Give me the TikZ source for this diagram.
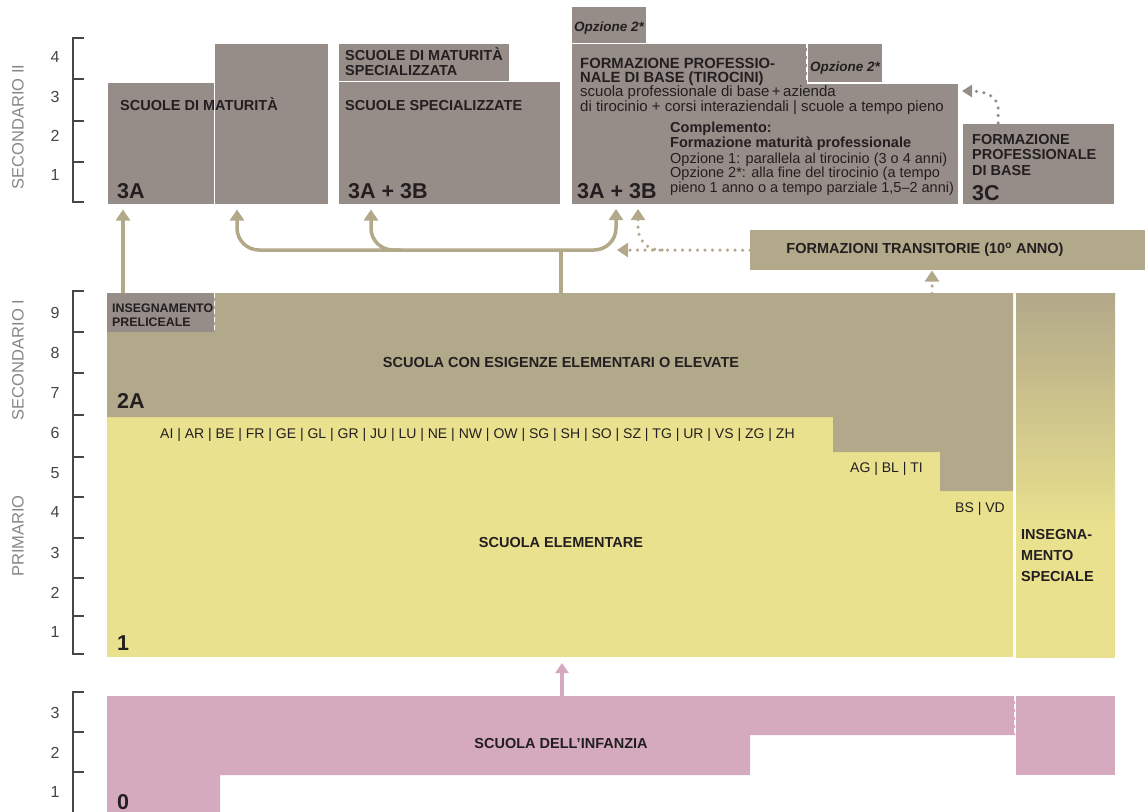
\documentclass[tikz,border=0pt]{standalone}
\usepackage{fontspec}
\setmainfont{Liberation Sans}
\usepackage{tikz}
\usetikzlibrary{positioning, arrows.meta, calc}
\definecolor{edMauve}{RGB}{151,141,136}
\definecolor{edKhaki}{RGB}{178,168,138}
\definecolor{edYellow}{RGB}{233,225,141}
\definecolor{edPink}{RGB}{213,170,190}
\definecolor{edInk}{RGB}{35,31,32}
\definecolor{edGray}{RGB}{135,135,135}
\definecolor{edAxis}{RGB}{70,70,70}

\begin{document}
\begin{tikzpicture}[x=1pt, y=-1pt,
	blk/.style={fill=#1, draw=white, line width=0.5pt, inner sep=0pt, anchor=north west},
	head/.style={font=\bfseries\fontsize{14.5}{14.5}\selectfont, text=edInk, inner sep=0pt, anchor=base west, align=left},
	grade/.style={font=\bfseries\fontsize{21.5}{21.5}\selectfont, text=edInk, inner sep=0pt, anchor=base west},
	body/.style={font=\fontsize{14.5}{14.5}\selectfont, text=edInk, inner sep=0pt, anchor=base west, align=left},
	opz/.style={font=\bfseries\itshape\fontsize{13.5}{13.5}\selectfont, text=edInk, inner sep=0pt, anchor=base west},
	year/.style={font=\fontsize{16}{16}\selectfont, text=edAxis, inner sep=0pt},
	stage/.style={font=\fontsize{16.5}{16.5}\selectfont, text=edGray, rotate=90, inner sep=0pt},
	axis/.style={edAxis, line width=1.4pt},
	whitedash/.style={white, line width=1.3pt, dash pattern=on 5pt off 3pt},
	flow/.style={edKhaki, line width=3.5pt, -{Triangle[width=14pt,length=11pt]}},
	dotflow/.style={edKhaki, line width=3.5pt, line cap=round, dash pattern=on 0pt off 7.5pt, -{Triangle[width=14pt,length=11pt]}},
]
	\fill[white] (0,0) rectangle (1145,811);
	\useasboundingbox (0,0) rectangle (1145,811);

	% axis on the left
	\draw[axis] (84,38) -| (73,202) -- (84,202);
	\foreach \t in {79,121,162} \draw[axis] (73,\t) -- (84,\t);
	\foreach \n/\t in {4/57,3/97,2/136,1/175} \node[year] (ysec\n) at (55,\t) {\n};
	\draw[axis] (84,291) -| (73,654) -- (84,654);
	\foreach \t in {332,373,415,457,497,538,578,616} \draw[axis] (73,\t) -- (84,\t);
	\foreach \n/\t in {9/313,8/353,7/393,6/433,5/473,4/512,3/553,2/593,1/632} \node[year] (ymid\n) at (55,\t) {\n};
	\draw[axis] (84,692) -| (73,812);
	\foreach \t in {732,772} \draw[axis] (73,\t) -- (84,\t);
	\foreach \n/\t in {3/713,2/753,1/792} \node[year] (yinf\n) at (55,\t) {\n};
	\node[stage] (lsec2) at (18,127) {SECONDARIO II};
	\node[stage] (lsec1) at (18,360) {SECONDARIO I};
	\node[stage] (lprim) at (18,536) {PRIMARIO};

	% secondario II
	\node[blk=edMauve, minimum width=107pt, minimum height=122pt] (mat3a) at (107,82) {};
	\node[blk=edMauve, minimum width=114pt, minimum height=161pt] (mat4) at (214,43) {};
	\draw[whitedash] (mat3a.north east) -- (mat3a.south east);
	\node[blk=edMauve, minimum width=222pt, minimum height=123pt] (spec) at (338,81) {};
	\node[blk=edMauve, minimum width=171pt, minimum height=38pt] (matspec) at (338,43) {};
	\draw[whitedash] (matspec.south west) -- (matspec.south east);
	\node[blk=edMauve, minimum width=75pt, minimum height=37pt] (opztop) at (571,6) {};
	\fill[edMauve, draw=white, line width=0.5pt] (571,43) -- (807,43) -- (807,83) -- (958,83) -- (958,204) -- (571,204) -- cycle;
	\coordinate (fpsw) at (571,204);
	\coordinate (fpne) at (958,83);
	\draw[whitedash] (opztop.south west) -- (opztop.south east);
	\node[blk=edMauve, minimum width=75pt, minimum height=39pt] (opzright) at (807,43) {};
	\draw[whitedash] (opzright.north west) -- (opzright.south west) -- (opzright.south east);
	\node[blk=edMauve, minimum width=152pt, minimum height=81pt] (fp3c) at (962,123) {};

	\node[head] (tmat) at (120,110) {SCUOLE DI MATURITÀ};
	\node[grade] (g3a) at (117,198) {3A};
	\node[head] (tmatspec) at (345,75) {SCUOLE DI MATURITÀ\\SPECIALIZZATA};
	\node[head] (tspec) at (345,110) {SCUOLE SPECIALIZZATE};
	\node[grade] (g3ab) at (348,198) {3A + 3B};
	\node[opz] (topz1) at (574,31) {Opzione 2*};
	\node[opz] (topz2) at (810,71) {Opzione 2*};
	\node[head, font=\bfseries\fontsize{14.8}{13.5}\selectfont] (tfp) at (580,82) {FORMAZIONE PROFESSIO-\\NALE DI BASE (TIROCINI)};
	\node[body, font=\fontsize{15}{13.5}\selectfont] (tfpsub) at (580,111) {scuola professionale di base\,+\,azienda\\di tirocinio + corsi interaziendali | scuole a tempo pieno};
	\node[head, font=\bfseries\fontsize{14.5}{13.5}\selectfont] (tbm) at (670,147) {Complemento:\\Formazione maturità professionale};
	\node[body] (tbmopt) at (670,192) {Opzione 1: parallela al tirocinio (3 o 4 anni)\\Opzione 2*: alla fine del tirocinio (a tempo\\pieno 1 anno o a tempo parziale 1,5–2 anni)};
	\node[grade] (g3ab2) at (577,198) {3A + 3B};
	\node[head, font=\bfseries\fontsize{14.5}{15.5}\selectfont] (t3c) at (972,175) {FORMAZIONE\\PROFESSIONALE\\DI BASE};
	\node[grade] (g3c) at (972,200) {3C};

	% secondario I e primario
	\fill[edYellow] (107,417) rectangle (1013,657);
	\fill[edKhaki] (107,293) -- (1013,293) -- (1013,491) -- (940,491) -- (940,452) -- (833,452) -- (833,417) -- (107,417) -- cycle;
	\coordinate (mediatop) at (561,293);
	\node[blk=edMauve, draw=none, minimum width=107pt, minimum height=39pt] (prelic) at (107,293) {};
	\draw[whitedash] (prelic.north east) -- (prelic.south east);
	\shade[top color=edKhaki, bottom color=edYellow] (1016,293) rectangle (1115,530);
	\fill[edYellow] (1016,530) rectangle (1115,658);
	\draw[whitedash] (1015,293) -- (1015,658);
	\node[blk=edKhaki, draw=none, minimum width=396pt, minimum height=40pt] (trans) at (750,230) {};

	\node[head, font=\bfseries\fontsize{12.4}{13.5}\selectfont] (tprelic) at (112,326) {INSEGNAMENTO\\PRELICEALE};
	\node[head, anchor=center] (tmedia) at (561,363) {SCUOLA CON ESIGENZE ELEMENTARI O ELEVATE};
	\node[grade] (g2a) at (117,408) {2A};
	\node[body, font=\fontsize{14}{14}\selectfont] (tcant1) at (160,438) {AI | AR | BE | FR | GE | GL | GR | JU | LU | NE | NW | OW | SG | SH | SO | SZ | TG | UR | VS | ZG | ZH};
	\node[body, font=\fontsize{14}{14}\selectfont] (tcant2) at (850,472) {AG | BL | TI};
	\node[body, font=\fontsize{14}{14}\selectfont] (tcant3) at (955,512) {BS | VD};
	\node[head, anchor=center] (telem) at (561,543) {SCUOLA ELEMENTARE};
	\node[grade] (g1) at (117,650) {1};
	\node[head, font=\bfseries\fontsize{14.5}{21}\selectfont] (tspecial) at (1021,581) {INSEGNA-\\MENTO\\SPECIALE};
	\node[head, anchor=center] (ttrans) at (925,250) {FORMAZIONI TRANSITORIE (10\textsuperscript{o} ANNO)};

	% infanzia
	\fill[edPink] (107,696) -- (1015,696) -- (1015,735) -- (750,735) -- (750,775) -- (220,775) -- (220,812) -- (107,812) -- cycle;
	\fill[edPink] (1016,696) rectangle (1115,775);
	\draw[whitedash] (1015,696) -- (1015,735);
	\coordinate (inftop) at (562,696);
	\node[head, anchor=center] (tinf) at (561,743) {SCUOLA DELL’INFANZIA};
	\node[grade] (g0) at (117,809) {0};

	% passaggi
	\draw[flow] ($(prelic.north west)+(16,0)$) -- ($(mat3a.south west)+(16,5)$);
	\coordinate (fork) at (561,250);
	\draw[edKhaki, line width=3.5pt] (mediatop) -- (fork);
	\draw[flow, rounded corners=22pt] (fork) -| ($(mat4.south west)+(23,5)$);
	\draw[flow, rounded corners=22pt] ($(fork)+(-160,0)$) -| ($(spec.south west)+(33,5)$);
	\draw[flow, rounded corners=22pt] (fork) -| ($(fpsw)+(45,5)$);
	\draw[dotflow] (trans.west) -- ($(fpsw |- fork)+(46,0)$);
	\draw[dotflow, rounded corners=22pt] ($(fpsw |- fork)+(91,0)$) -| ($(fpsw)+(67,5)$);
	\draw[dotflow] ($(trans.south west)+(182,23)$) -- ($(trans.south west)+(182,0)$);
	\draw[dotflow, edMauve, -{Triangle[width=12pt,length=10pt]}] ($(fp3c.north west)+(36,0)$) -- ++(0,-15) .. controls ++(0,-14) and (980,91) .. ($(fpne)+(4,8)$);
	\draw[edPink, line width=3.5pt, -{Triangle[width=13pt,length=10pt]}] (inftop) -- ($(inftop)+(0,-33)$);
\end{tikzpicture}
\end{document}
